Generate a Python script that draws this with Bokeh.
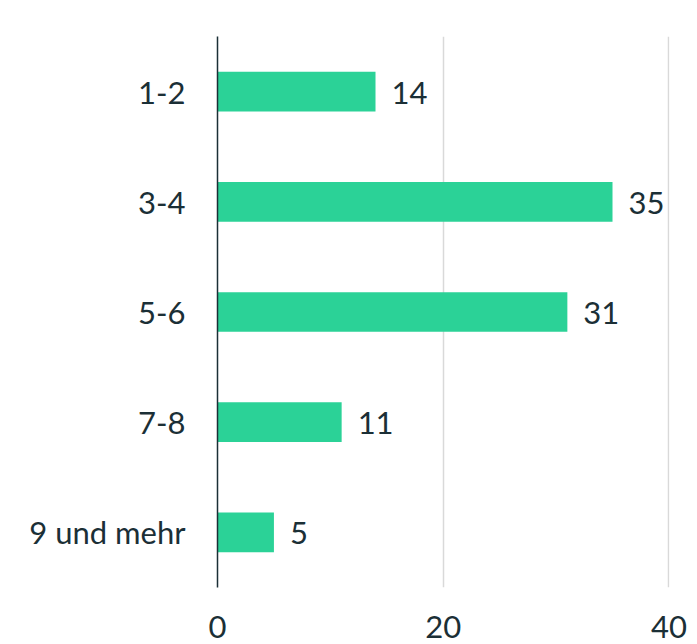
from bokeh.plotting import figure
from bokeh.models import ColumnDataSource, FixedTicker, LabelSet, Range1d, FactorRange
from bokeh.embed import file_html
from bokeh.resources import INLINE
from bokeh.core.properties import value

categories = ["1-2", "3-4", "5-6", "7-8", "9 und mehr"]
values = [14, 35, 31, 11, 5]
x_ticks = [0, 20, 40]

FONT = "Lato"
TEXT = "#1b2f36"
BAR = "#2bd297"

src = ColumnDataSource(dict(cat=categories, val=values, lab=[str(v) for v in values]))

p = figure(width=697, height=644, output_backend="svg", toolbar_location=None,
           y_range=FactorRange(factors=list(reversed(categories))),
           x_range=Range1d(0, 40.05),
           min_border_left=217, min_border_right=28, min_border_top=36, min_border_bottom=57)
p.outline_line_color = None
p.background_fill_color = "white"
p.border_fill_color = "white"

p.hbar(y="cat", right="val", left=0, height=0.36, source=src, color=BAR, line_color=None)

vals = LabelSet(x="val", y="cat", text="lab", source=src, x_offset=16, y_offset=-1,
                text_font=value(FONT), text_font_size="31px", text_color=TEXT,
                text_baseline="middle", text_align="left")
p.add_layout(vals)

p.xaxis.ticker = FixedTicker(ticks=x_ticks)
p.xaxis.axis_line_color = None
p.xaxis.major_tick_line_color = None
p.xaxis.minor_tick_line_color = None
p.xaxis.major_label_text_font = FONT
p.xaxis.major_label_text_font_size = "31px"
p.xaxis.major_label_text_color = TEXT
p.xaxis.major_label_standoff = 22

p.yaxis.axis_line_color = "#1b2f36"
p.yaxis.axis_line_width = 1.5
p.yaxis.major_tick_line_color = None
p.yaxis.minor_tick_line_color = None
p.yaxis.major_label_text_font = FONT
p.yaxis.major_label_text_font_size = "31px"
p.yaxis.major_label_text_color = TEXT
p.yaxis.major_label_standoff = 26

p.xgrid.grid_line_color = "#d9d9d9"
p.xgrid.grid_line_width = 1.5
p.ygrid.grid_line_color = None

open("out.html", "w").write(file_html(p, INLINE))
